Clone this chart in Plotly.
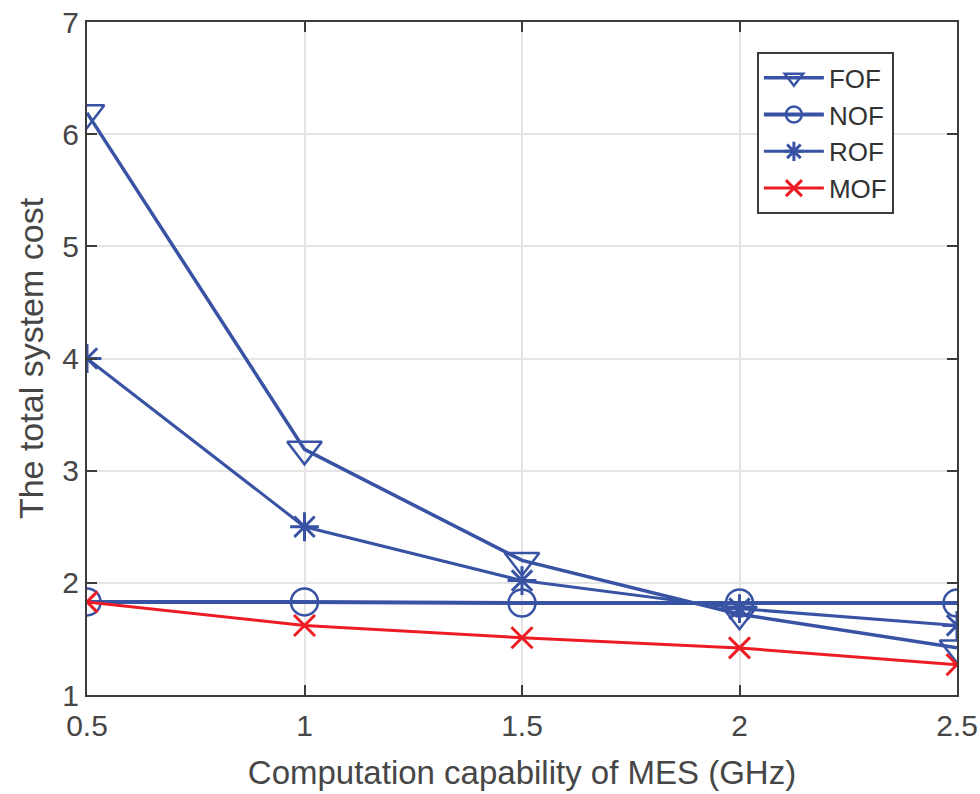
import plotly.graph_objects as go

x_vals = [0.5, 1.0, 1.5, 2.0, 2.5]
fof = [6.19, 3.19, 2.20, 1.72, 1.42]
nof = [1.83, 1.83, 1.82, 1.82, 1.82]
rof = [4.00, 2.50, 2.02, 1.77, 1.62]
mof = [1.83, 1.62, 1.51, 1.42, 1.27]

x_ticks = [0.5, 1, 1.5, 2, 2.5]
x_tick_labels = ["0.5", "1", "1.5", "2", "2.5"]
y_ticks = [1, 2, 3, 4, 5, 6, 7]

blue = "rgb(57,83,164)"
red = "rgb(237,28,36)"
font_family = "Liberation Sans, Arial, sans-serif"

fig = go.Figure()
fig.add_trace(go.Scatter(x=x_vals, y=fof, name="FOF", mode="lines+markers",
                         line=dict(color=blue, width=3.5),
                         marker=dict(symbol="triangle-down-open", size=30,
                                     color=blue, line=dict(width=2.5, color=blue))))
fig.add_trace(go.Scatter(x=x_vals, y=nof, name="NOF", mode="lines+markers",
                         line=dict(color=blue, width=4),
                         marker=dict(symbol="circle-open", size=27,
                                     color=blue, line=dict(width=2.5, color=blue))))
fig.add_trace(go.Scatter(x=x_vals, y=rof, name="ROF", mode="lines+markers",
                         line=dict(color=blue, width=3),
                         marker=dict(symbol="asterisk-open", size=24,
                                     color=blue, line=dict(width=3, color=blue))))
fig.add_trace(go.Scatter(x=x_vals, y=mof, name="MOF", mode="lines+markers",
                         line=dict(color=red, width=3),
                         marker=dict(symbol="x-thin-open", size=21,
                                     color=red, line=dict(width=3, color=red))))

axis_common = dict(
    showgrid=True, gridcolor="rgb(228,228,228)", gridwidth=1.5,
    showline=True, linecolor="rgb(60,60,60)", linewidth=2, mirror="ticks",
    ticks="inside", ticklen=10, tickwidth=1.5, tickcolor="rgb(60,60,60)",
    zeroline=False,
    tickfont=dict(family=font_family, size=30, color="rgb(70,70,70)"),
)

fig.update_xaxes(range=[0.5, 2.5], tickvals=x_ticks, ticktext=x_tick_labels,
                 ticklabelstandoff=3, automargin=False,
                 title=dict(text="Computation capability of MES (GHz)",
                            font=dict(family=font_family, size=33, color="rgb(70,70,70)"),
                            standoff=20),
                 **axis_common)
fig.update_yaxes(range=[1, 7], tickvals=y_ticks, automargin=False,
                 title=dict(text="The total system cost",
                            font=dict(family=font_family, size=34, color="rgb(70,70,70)"),
                            standoff=8),
                 **axis_common)

fig.update_layout(
    width=980, height=794,
    margin=dict(l=87, r=23, t=22, b=99),
    paper_bgcolor="white", plot_bgcolor="white",
    showlegend=True,
    legend=dict(x=0.770, y=0.955, xanchor="left", yanchor="top",
                bgcolor="white", bordercolor="rgb(60,60,60)", borderwidth=2,
                font=dict(family=font_family, size=26, color="rgb(50,50,50)"),
                tracegroupgap=0, itemwidth=60),
)

fig.write_html("out.html")
